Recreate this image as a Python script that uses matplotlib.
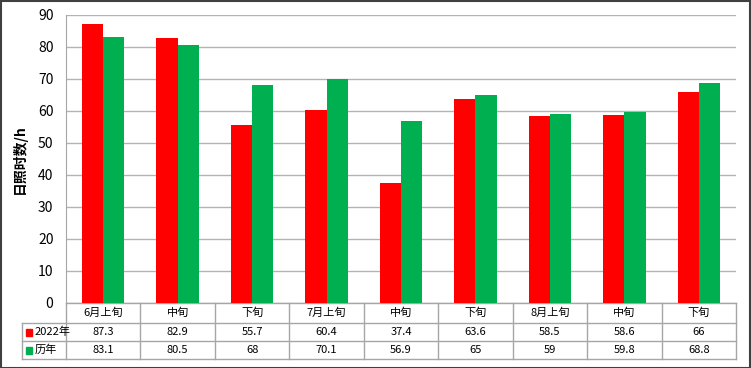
import numpy as np
import matplotlib.pyplot as plt
from matplotlib.patches import Rectangle

plt.rcParams['font.family'] = ['Noto Sans CJK SC', 'DejaVu Sans']

categories = ['6月上旬', '中旬', '下旬', '7月上旬', '中旬', '下旬', '8月上旬', '中旬', '下旬']
series_names = ['2022年', '历年']
vals_2022 = [87.3, 82.9, 55.7, 60.4, 37.4, 63.6, 58.5, 58.6, 66]
vals_hist = [83.1, 80.5, 68, 70.1, 56.9, 65, 59, 59.8, 68.8]
labels_2022 = ['87.3', '82.9', '55.7', '60.4', '37.4', '63.6', '58.5', '58.6', '66']
labels_hist = ['83.1', '80.5', '68', '70.1', '56.9', '65', '59', '59.8', '68.8']
colors = ['#FF0000', '#00B050']

W, H = 751, 368
fig = plt.figure(figsize=(W / 100, H / 100), dpi=100)
ax = fig.add_axes([66 / W, (H - 303) / H, 670 / W, 288 / H])

x = np.arange(len(categories))
bw = 0.285
ax.bar(x - bw / 2, vals_2022, bw, color=colors[0], zorder=3)
ax.bar(x + bw / 2, vals_hist, bw, color=colors[1], zorder=3)

ax.set_xlim(-0.5, len(categories) - 0.5)
ax.set_ylim(0, 90)
ax.set_yticks(range(0, 91, 10))
ax.tick_params(axis='y', length=0, pad=9, labelsize=10)
ax.set_xticks([])
ax.yaxis.grid(True, color='#b3b3b3', linewidth=1)
for s in ['top', 'right', 'bottom']:
    ax.spines[s].set_visible(False)
ax.spines['left'].set_color('#a6a6a6')
ax.set_ylabel('日照时数/h', fontsize=10, fontweight='bold', labelpad=8)

# data table under the plot
tr = ax.get_xaxis_transform()
px = 1 / 288
rows = [0, -20 * px, -38 * px, -56 * px]
left = -0.5 - 44 / 74.4
lc = '#a6a6a6'
n = len(categories)
ax.plot([-0.5, n - 0.5], [rows[0]] * 2, transform=tr, color=lc, lw=1, clip_on=False)
for r in rows[1:]:
    ax.plot([left, n - 0.5], [r, r], transform=tr, color=lc, lw=1, clip_on=False)
for i in range(n + 1):
    ax.plot([i - 0.5] * 2, [rows[0], rows[3]], transform=tr, color=lc, lw=1, clip_on=False)
ax.plot([left] * 2, [rows[1], rows[3]], transform=tr, color=lc, lw=1, clip_on=False)

for i, c in enumerate(categories):
    ax.text(i, (rows[0] + rows[1]) / 2, c, transform=tr, ha='center', va='center', fontsize=8)
    ax.text(i, (rows[1] + rows[2]) / 2, labels_2022[i], transform=tr, ha='center', va='center', fontsize=8)
    ax.text(i, (rows[2] + rows[3]) / 2, labels_hist[i], transform=tr, ha='center', va='center', fontsize=8)

for k, name in enumerate(series_names):
    yc = (rows[k + 1] + rows[k + 2]) / 2
    ax.add_patch(Rectangle((left + 0.05, yc - 3.5 * px), 0.09, 7 * px, transform=tr,
                           color=colors[k], clip_on=False))
    ax.text(left + 0.17, yc, name, transform=tr, ha='left', va='center', fontsize=8)

fig.patches.append(Rectangle((0.5 / W, 0.5 / H), 1 - 1.5 / W, 1 - 1.5 / H, transform=fig.transFigure,
                             fill=False, edgecolor='#404040', lw=1.5))

fig.savefig('out.png', dpi=100)
